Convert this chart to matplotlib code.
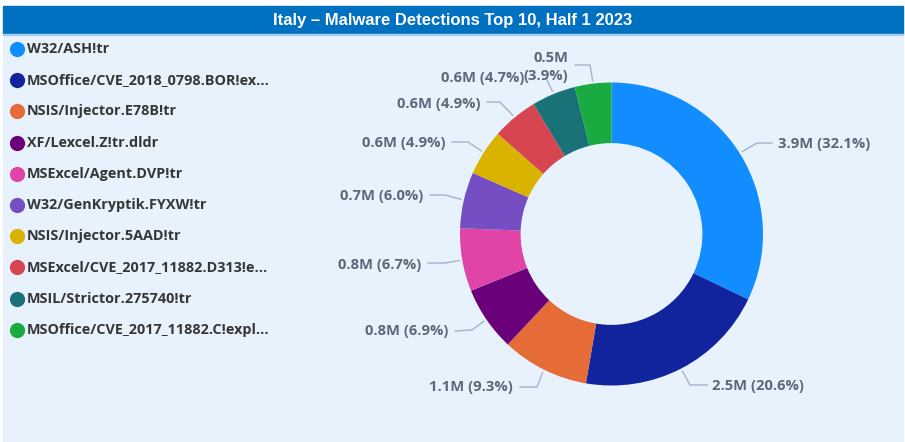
import matplotlib
matplotlib.use("Agg")
import matplotlib.pyplot as plt
from matplotlib.patches import Rectangle
import numpy as np

# ---- data ----
categories = [
    "W32/ASH!tr",
    "MSOffice/CVE_2018_0798.BOR!ex...",
    "NSIS/Injector.E78B!tr",
    "XF/Lexcel.Z!tr.dldr",
    "MSExcel/Agent.DVP!tr",
    "W32/GenKryptik.FYXW!tr",
    "NSIS/Injector.5AAD!tr",
    "MSExcel/CVE_2017_11882.D313!e...",
    "MSIL/Strictor.275740!tr",
    "MSOffice/CVE_2017_11882.C!expl...",
]
values_m = [3.9, 2.5, 1.1, 0.8, 0.8, 0.7, 0.6, 0.6, 0.6, 0.5]
percents = [32.1, 20.6, 9.3, 6.9, 6.7, 6.0, 4.9, 4.9, 4.7, 3.9]
colors = ["#118DFF", "#12239E", "#E66C37", "#6B007B", "#E044A7",
          "#744EC2", "#D9B300", "#D64550", "#197278", "#1AAB40"]
title = "Italy \u2013 Malware Detections Top 10, Half 1 2023"

# ---- layout (pixels) ----
W, H = 905, 442
cx, cy, R = 611.5, 234.0, 151.5
# (elbow x, elbow y, end x, end y, text x, text y, ha)
label_layout = [
    (757, 143, 772, 143, 778, 144, "left"),
    (690, 385, 707, 385, 712, 386, "left"),
    (537, 387, 520, 387, 513, 387, "right"),
    (472, 330, 455, 331, 448, 331, "right"),
    (445, 263, 428, 263, 421, 265, "right"),
    (445, 195, 430, 195, 423, 196, "right"),
    (468, 142, 452, 142, 445, 143, "right"),
    (500, 102, 487, 102, 480, 104, "right"),
    (547, 80, 547, 80, 524, 78, "right"),
    (590, 65, 575, 65, 568, 67, "right"),
]

fig = plt.figure(figsize=(W / 100, H / 100), dpi=100, facecolor="white")
ax = fig.add_axes([0, 0, 1, 1])
ax.set_xlim(0, W)
ax.set_ylim(H, 0)
ax.axis("off")

# panel + title bar
ax.add_patch(Rectangle((3, 35), 900, 407, color="#E7F2FD", zorder=0))
ax.add_patch(Rectangle((3, 6), 900, 28, color="#0070C0", zorder=1))
ax.add_patch(Rectangle((3, 33.5), 900, 1.8, color="#A8D0F0", zorder=1))
ax.text(453, 20, title, color="white", fontsize=12, fontweight="bold",
        family=["Liberation Sans Narrow", "Liberation Sans", "DejaVu Sans"],
        ha="center", va="center", zorder=2)

# legend
font_main = ["Open Sans", "DejaVu Sans"]
leg_y0, leg_dy = 49, 31.2
for i, (cat, col) in enumerate(zip(categories, colors)):
    y = leg_y0 + i * leg_dy
    ax.scatter([16.5], [y], s=120, color=col, zorder=3, linewidths=0)
    ax.text(26.5, y, cat, fontsize=10.4, fontweight="bold", color="#363636",
            family=font_main, ha="left", va="center", zorder=3)

# donut
ax2 = fig.add_axes([(cx - R) / W, (H - cy - R) / H, 2 * R / W, 2 * R / H])
ax2.pie(percents, colors=colors, startangle=90, counterclock=False,
        radius=1.0, wedgeprops=dict(width=0.4, linewidth=0))
ax2.set_xlim(-1, 1)
ax2.set_ylim(-1, 1)
ax2.set_aspect("equal")
ax2.axis("off")
ax2.patch.set_alpha(0)

# data labels with leader lines
lbl_fs = 10.6
cum = np.cumsum([0] + percents[:-1])
for i, (v, p) in enumerate(zip(values_m, percents)):
    mid = 90 - (cum[i] + p / 2) / 100 * 360
    th = np.deg2rad(mid)
    sx = cx + (R + 3) * np.cos(th)
    sy = cy - (R + 3) * np.sin(th)
    ex, ey, tx, ty, lx, ly, ha = label_layout[i]
    ax.plot([sx, ex, tx], [sy, ey, ty], color="#A9B1C8", lw=1.0, zorder=2)
    if i == len(values_m) - 1:
        txt = f"{v}M\n({p}%)"
        ax.text(lx, ly, txt, fontsize=lbl_fs, fontweight="bold", color="#5E6678",
                family=font_main, ha=ha, va="center", linespacing=1.45,
                multialignment="right", zorder=4)
    else:
        txt = f"{v}M ({p}%)"
        ax.text(lx, ly, txt, fontsize=lbl_fs, fontweight="bold", color="#5E6678",
                family=font_main, ha=ha, va="center", zorder=4)

fig.savefig("out.png", dpi=100, facecolor="white")
